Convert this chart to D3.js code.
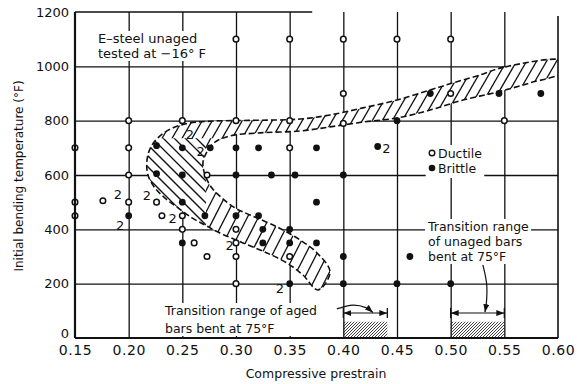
<!DOCTYPE html>
<html>
<head>
<meta charset="utf-8">
<script src="https://cdnjs.cloudflare.com/ajax/libs/d3/7.8.5/d3.min.js"></script>
<style>
body { margin: 0; background: #fff; }
text { font-family: "DejaVu Sans", sans-serif; fill: #111; }
</style>
</head>
<body>
<script>
var width = 577, height = 384;
var margin = {top: 12, right: 19, bottom: 46, left: 75};
var innerW = width - margin.left - margin.right;
var innerH = height - margin.top - margin.bottom;

var xTicks = [0.15, 0.20, 0.25, 0.30, 0.35, 0.40, 0.45, 0.50, 0.55, 0.60];
var yTicks = [0, 200, 400, 600, 800, 1000, 1200];

// [prestrain, temperature F]
var ductile = [
    [0.15, 700], [0.15, 500], [0.15, 450], [0.176, 505],
    [0.20, 800], [0.20, 700], [0.20, 600], [0.20, 500],
    [0.226, 500], [0.231, 450],
    [0.25, 800], [0.25, 450], [0.25, 400], [0.261, 350],
    [0.273, 600], [0.273, 300],
    [0.30, 1100], [0.30, 800], [0.30, 400], [0.30, 350], [0.30, 300], [0.30, 200],
    [0.35, 1100], [0.35, 800], [0.35, 700], [0.35, 300],
    [0.40, 1100], [0.40, 900], [0.40, 790],
    [0.45, 1100], [0.50, 1100], [0.50, 900], [0.55, 800]
];
var brittle = [
    [0.20, 450],
    [0.226, 708], [0.226, 605],
    [0.25, 700], [0.25, 600], [0.25, 500], [0.25, 350],
    [0.271, 450], [0.276, 700],
    [0.30, 700], [0.30, 600], [0.30, 450],
    [0.321, 700], [0.321, 450], [0.325, 400], [0.325, 350], [0.333, 600],
    [0.35, 400], [0.35, 350], [0.35, 200], [0.355, 600],
    [0.375, 700], [0.375, 500], [0.375, 350],
    [0.40, 600], [0.40, 300], [0.40, 200],
    [0.432, 705], [0.45, 800], [0.45, 200], [0.462, 300],
    [0.481, 900], [0.50, 200], [0.545, 900], [0.584, 900]
];
// "2" = two specimens
var twoMarks = [
    [0.190, 530], [0.217, 526], [0.192, 415], [0.241, 442],
    [0.257, 751], [0.267, 686], [0.294, 342], [0.341, 184], [0.440, 700]
];

// transition band outline
var bandOuter = [
    [0.605, 1020], [0.5497, 997], [0.5273, 968], [0.5022, 939], [0.4808, 913],
    [0.45, 876], [0.4183, 847], [0.3876, 821], [0.3596, 806], [0.313, 801],
    [0.2758, 798], [0.2525, 788], [0.2339, 758], [0.2217, 710], [0.2171, 655],
    [0.218, 600], [0.2245, 552], [0.2339, 515], [0.246, 479], [0.259, 442],
    [0.2711, 416], [0.2832, 390], [0.3065, 350], [0.3289, 313], [0.3475, 276],
    [0.3624, 232], [0.3764, 177], [0.3876, 243]
];
var bandInner = [
    [0.3755, 313], [0.3596, 361], [0.3382, 409], [0.313, 453], [0.299, 479],
    [0.287, 515], [0.2776, 552], [0.2711, 600], [0.2693, 648], [0.2739, 692],
    [0.2804, 721], [0.2944, 744], [0.3224, 755], [0.3596, 762], [0.3876, 777],
    [0.4183, 795], [0.45, 810], [0.4808, 839], [0.5115, 876], [0.5432, 905],
    [0.5739, 939], [0.605, 980]
];

var agedRange = [0.40, 0.441];
var unagedRange = [0.50, 0.55];
var rangeTop = 60;
var arrowT = 92;

var svg = d3.select("body").append("svg")
    .attr("width", width)
    .attr("height", height);

var defs = svg.append("defs");
defs.append("marker")
    .attr("id", "arr")
    .attr("markerUnits", "userSpaceOnUse")
    .attr("markerWidth", 8).attr("markerHeight", 6)
    .attr("refX", 8).attr("refY", 3)
    .attr("orient", "auto-start-reverse")
    .append("path").attr("d", "M0,0L8,3L0,6z").attr("fill", "#111");

var chart = svg.append("g")
    .attr("transform", "translate(" + margin.left + "," + margin.top + ")");

var x = d3.scaleLinear().domain([0.15, 0.60]).range([0, innerW]);
var y = d3.scaleLinear().domain([0, 1200]).range([innerH, 0]);

defs.append("clipPath").attr("id", "plot")
    .append("rect").attr("width", innerW).attr("height", innerH);

// grid
chart.append("g")
    .attr("transform", "translate(0," + innerH + ")")
    .call(d3.axisBottom(x).tickValues(xTicks.slice(1, -1)).tickSize(-innerH).tickFormat(""))
    .call(function (g) { g.select(".domain").remove(); })
    .selectAll("line").attr("stroke", "#111").attr("stroke-width", 1.3);

chart.append("g")
    .call(d3.axisLeft(y).tickValues(yTicks.slice(1, -1)).tickSize(-innerW).tickFormat(""))
    .call(function (g) { g.select(".domain").remove(); })
    .selectAll("line").attr("stroke", "#111").attr("stroke-width", 1.3);

// text with white box behind
function boxedText(lines, tx, ty, gap, size) {
    var grp = svg.append("g");
    var t = grp.append("text").style("font-size", size + "px");
    lines.forEach(function (s, i) {
        t.append("tspan").attr("x", tx).attr("y", ty + i * gap).text(s);
    });
    var bb = t.node().getBBox();
    grp.insert("rect", "text")
        .attr("x", bb.x - 2).attr("y", bb.y)
        .attr("width", bb.width + 4).attr("height", bb.height)
        .attr("fill", "#fff");
    return grp;
}

boxedText(["E\u2013steel unaged", "tested at \u221216\u00b0 F"], 98, 43, 15, 13);
boxedText(["Transition range", "of unaged bars", "bent at 75\u00b0F"], 428, 231, 15, 12.5);
boxedText(["Transition range of aged", "bars bent at 75\u00b0F"], 165, 315, 18, 12.5);

// legend
var legend = svg.append("g");
var legBg = legend.append("rect").attr("fill", "#fff");
legend.append("circle").attr("cx", 432).attr("cy", 153).attr("r", 2.8)
    .attr("fill", "#fff").attr("stroke", "#111").attr("stroke-width", 1.4);
legend.append("circle").attr("cx", 432).attr("cy", 168).attr("r", 3.3).attr("fill", "#111");
legend.append("text").attr("x", 438).attr("y", 158).style("font-size", "12.5px").text("Ductile");
legend.append("text").attr("x", 438).attr("y", 173).style("font-size", "12.5px").text("Brittle");
var lb = legend.node().getBBox();
legBg.attr("x", lb.x - 3).attr("y", lb.y - 1).attr("width", lb.width + 5).attr("height", lb.height + 3);

// hatched transition band
var bandPts = bandOuter.concat(bandInner);
var bandLine = d3.line()
    .x(function (d) { return x(d[0]); })
    .y(function (d) { return y(d[1]); })
    .curve(d3.curveCatmullRomClosed.alpha(0.5));

defs.append("clipPath").attr("id", "band")
    .append("path").attr("d", bandLine(bandPts));

var yCut = y(735), xCut = x(0.272);
defs.append("clipPath").attr("id", "regA")
    .append("rect").attr("x", -10).attr("y", -10).attr("width", innerW + 20).attr("height", yCut + 10);
defs.append("clipPath").attr("id", "regB")
    .append("rect").attr("x", -10).attr("y", yCut).attr("width", xCut + 10).attr("height", innerH);
defs.append("clipPath").attr("id", "regC")
    .append("rect").attr("x", xCut).attr("y", yCut).attr("width", innerW).attr("height", innerH);

function hatch(g, angle, step, dir, sw) {
    var run = innerH / Math.tan(angle * Math.PI / 180);
    for (var c = -run - 20; c < innerW + run + 20; c += step) {
        if (dir > 0) {
            g.append("line").attr("x1", c).attr("y1", innerH).attr("x2", c + run).attr("y2", 0);
        } else {
            g.append("line").attr("x1", c).attr("y1", 0).attr("x2", c + run).attr("y2", innerH);
        }
    }
    g.selectAll("line").attr("stroke", "#111").attr("stroke-width", sw);
}

var bandG = chart.append("g").attr("clip-path", "url(#plot)")
    .append("g").attr("clip-path", "url(#band)");
bandG.append("path").attr("d", bandLine(bandPts)).attr("fill", "#fff");
hatch(bandG.append("g").attr("clip-path", "url(#regA)"), 60, 10, 1, 1.3);
hatch(bandG.append("g").attr("clip-path", "url(#regB)"), 45, 11, -1, 1.3);
hatch(bandG.append("g").attr("clip-path", "url(#regC)"), 63, 11, 1, 1.3);

chart.append("g").attr("clip-path", "url(#plot)")
    .append("path").attr("d", bandLine(bandPts))
    .attr("fill", "none").attr("stroke", "#111")
    .attr("stroke-width", 1.6).attr("stroke-dasharray", "6,3");

// transition ranges at 75F
[agedRange, unagedRange].forEach(function (r, i) {
    var id = "rng" + i;
    defs.append("clipPath").attr("id", id).append("rect")
        .attr("x", x(r[0])).attr("y", y(rangeTop))
        .attr("width", x(r[1]) - x(r[0])).attr("height", y(0) - y(rangeTop));
    var hg = chart.append("g").attr("clip-path", "url(#" + id + ")");
    hatch(hg, 45, 3, 1, 0.8);
    chart.append("line")
        .attr("x1", x(r[0])).attr("x2", x(r[1]))
        .attr("y1", y(arrowT)).attr("y2", y(arrowT))
        .attr("stroke", "#111").attr("stroke-width", 1.2)
        .attr("marker-start", "url(#arr)").attr("marker-end", "url(#arr)");
    r.forEach(function (v) {
        chart.append("line")
            .attr("x1", x(v)).attr("x2", x(v))
            .attr("y1", y(arrowT) - 5).attr("y2", y(arrowT) + 5)
            .attr("stroke", "#111").attr("stroke-width", 1.3);
    });
});

var agedCurve = [[0.394, 107], [0.409, 121], [0.421, 112], [0.4275, 94]];
var unagedCurve = [[0.530, 269], [0.5335, 200], [0.5335, 140], [0.532, 95]];
var curveLine = d3.line()
    .x(function (d) { return x(d[0]); })
    .y(function (d) { return y(d[1]); })
    .curve(d3.curveCatmullRom);
[agedCurve, unagedCurve].forEach(function (c) {
    chart.append("path").attr("d", curveLine(c))
        .attr("fill", "none").attr("stroke", "#111").attr("stroke-width", 1.2)
        .attr("marker-end", "url(#arr)");
});

// points
chart.selectAll(".duct")
    .data(ductile)
    .enter()
    .append("circle")
    .attr("class", "duct")
    .attr("cx", function (d) { return x(d[0]); })
    .attr("cy", function (d) { return y(d[1]); })
    .attr("r", 2.8)
    .attr("fill", "#fff")
    .attr("stroke", "#111")
    .attr("stroke-width", 1.5);

chart.selectAll(".brit")
    .data(brittle)
    .enter()
    .append("circle")
    .attr("class", "brit")
    .attr("cx", function (d) { return x(d[0]); })
    .attr("cy", function (d) { return y(d[1]); })
    .attr("r", 3.4)
    .attr("fill", "#111");

chart.selectAll(".two")
    .data(twoMarks)
    .enter()
    .append("text")
    .attr("class", "two")
    .attr("x", function (d) { return x(d[0]); })
    .attr("y", function (d) { return y(d[1]); })
    .attr("dy", "0.36em")
    .attr("text-anchor", "middle")
    .style("font-size", "13px")
    .text("2");

// frame
var frame = chart.append("g").attr("stroke", "#111").attr("fill", "none");
frame.append("line").attr("x1", 0).attr("x2", 0).attr("y1", 0).attr("y2", innerH).attr("stroke-width", 2.2);
frame.append("line").attr("x1", 0).attr("x2", innerW).attr("y1", innerH).attr("y2", innerH).attr("stroke-width", 2.2);
frame.append("line").attr("x1", innerW).attr("x2", innerW).attr("y1", 4).attr("y2", innerH).attr("stroke-width", 1.6);
frame.append("line").attr("x1", 0).attr("x2", x(0.371)).attr("y1", 0).attr("y2", 0).attr("stroke-width", 1.6);

// tick labels
chart.append("g")
    .attr("transform", "translate(0," + innerH + ")")
    .call(d3.axisBottom(x).tickValues(xTicks).tickSize(0).tickPadding(7).tickFormat(d3.format(".2f")))
    .call(function (g) { g.select(".domain").remove(); })
    .selectAll("text")
    .attr("fill", "#111")
    .style("font-family", "DejaVu Sans, sans-serif")
    .style("font-size", "14px")
    .style("letter-spacing", "0.6px");

chart.append("g")
    .call(d3.axisLeft(y).tickValues(yTicks).tickSize(0).tickPadding(6).tickFormat(d3.format("d")))
    .call(function (g) { g.select(".domain").remove(); })
    .selectAll("text")
    .attr("fill", "#111")
    .attr("y", function (d) { return d === 0 ? -5 : 0; })
    .style("font-family", "DejaVu Sans, sans-serif")
    .style("font-size", "13px");

// axis titles
svg.append("text")
    .attr("x", 316).attr("y", 378)
    .attr("text-anchor", "middle")
    .style("font-size", "12.5px")
    .text("Compressive prestrain");

svg.append("text")
    .attr("transform", "translate(23,176) rotate(-90)")
    .attr("text-anchor", "middle")
    .style("font-size", "12px")
    .text("Initial bending temperature (\u00b0F)");
</script>
</body>
</html>
